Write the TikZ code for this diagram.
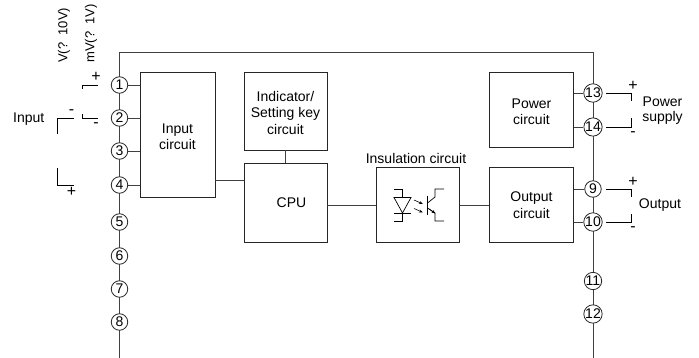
\documentclass[tikz,border=0pt]{standalone}
\usepackage{fontspec}
\setmainfont{Liberation Sans}
\usetikzlibrary{arrows.meta}
\newcommand{\downtext}{\rule{0pt}{14pt}}
\begin{document}
\begin{tikzpicture}[x=1pt,y=-1pt,
  wire/.style={draw=black!75,line width=0.9pt},
  thin wire/.style={draw=black,line width=0.7pt},
  blockbox/.style={draw=black!85,fill=white,line width=0.9pt,minimum width=0pt,align=center,font=\fontsize{14}{16.5}\selectfont,inner sep=0pt},
  term/.style={circle,draw=black!85,fill=white,line width=0.8pt,minimum size=16.5pt,inner sep=0pt,font=\fontsize{14}{14}\selectfont},
  lab/.style={font=\fontsize{14}{15}\selectfont,align=center,inner sep=0pt},
  vlab/.style={font=\fontsize{13}{15}\selectfont,inner sep=0pt,rotate=90,anchor=west},
  sign/.style={font=\fontsize{16}{16}\selectfont,inner sep=0pt}]
\useasboundingbox (0,0) rectangle (699,358);
\coordinate (tl) at (119.5,52);
\coordinate (tr) at (593,52);
\coordinate (bl) at (119.5,358);
\coordinate (br) at (593,358);
\draw[wire] (bl) -- (tl) -- (tr) -- (br);
% blocks
\node[blockbox,minimum width=75pt,minimum height=125pt] (inp) at (177.5,134.5) {\downtext Input\\circuit};
\node[blockbox,minimum width=83pt,minimum height=78pt] (ind) at (285.5,111) {\downtext Indicator/\\Setting key\\circuit};
\node[blockbox,minimum width=83pt,minimum height=79pt] (cpu) at (285.5,203) {\hspace*{12pt}CPU};
\node[blockbox,minimum width=83pt,minimum height=75pt] (ins) at (418,205) {};
\node[blockbox,minimum width=84pt,minimum height=75pt] (out) at (531.5,205) {Output\\circuit};
\node[blockbox,minimum width=84pt,minimum height=75pt] (pow) at (531.5,109.5) {\downtext Power\\circuit};
\node[lab,anchor=south] (inslab) at (416,163.5) {Insulation circuit};
% terminals
\foreach \n/\y in {1/85,2/118,3/151,4/185,5/222,6/256,7/289,8/322}
  \node[term] (t\n) at (119.5,\y) {\n};
\foreach \n/\y in {13/93,14/127,9/189,10/222,11/281,12/314}
  \node[term] (t\n) at (593,\y) {\n};
% connections
\draw[wire] (t1) -- (t1 -| inp.west);
\draw[wire] (t2) -- (t2 -| inp.west);
\draw[wire] (t3) -- (t3 -| inp.west);
\draw[wire] (t4) -- (t4 -| inp.west);
\draw[wire] (inp.east |- 0,180.5) -- (cpu.west |- 0,180.5);
\draw[wire] (ind) -- (cpu);
\draw[wire] (cpu.east |- ins) -- (ins.west);
\draw[wire] (ins.east) -- (out.west);
\draw[wire] (out.east |- t9) -- (t9);
\draw[wire] (out.east |- t10) -- (t10);
\draw[wire] (pow.east |- t13) -- (t13);
\draw[wire] (pow.east |- t14) -- (t14);
% optocoupler
\draw[thin wire] (394,189) -- (402.5,189) -- (402.5,197.5);
\draw[thin wire] (394,197.5) -- (411,197.5) -- (402.5,213) -- cycle;
\draw[thin wire] (394,213) -- (411,213);
\draw[thin wire] (402.5,213) -- (402.5,221) -- (394,221);
\draw[line width=0.6pt,-{Stealth[length=4pt,width=3pt]}] (414,200) -- (423,204);
\draw[line width=0.6pt,-{Stealth[length=4pt,width=3pt]}] (414,208.5) -- (423,212.5);
\draw[thin wire,line width=1.1pt] (427.5,196) -- (427.5,215);
\draw[thin wire] (427.5,203) -- (435,197) -- (435,189) -- (444,189);
\draw[thin wire] (427.5,208) -- (435,213) -- (435,221) -- (444,221);
\draw[line width=0.6pt,-{Stealth[length=4pt,width=3pt]}] (429,209) -- (435.5,213.5);
% input brackets
\draw[thin wire] (98,85) -- (82,85) -- (82,89);
\draw[thin wire] (82,114) -- (82,118) -- (98,118);
\draw[thin wire] (57,134) -- (57,118) -- (74,118);
\draw[thin wire] (57,168) -- (57,185) -- (74,185);
\node[sign] (pa) at (96,77) {+};
\node[sign] (ma) at (96,125) {-};
\node[sign] (mb) at (71.5,112) {-};
\node[sign] (pb) at (71.5,192) {+};
\node[lab,anchor=west] (input) at (13,119) {Input};
\node[vlab] (v) at (64,63) {V(?\ \ 10V)};
\node[vlab] (mv) at (91,63) {mV(?\ \ 1V)};
% right brackets
\draw[thin wire] (606,93) -- (631,93) -- (631,101);
\draw[thin wire] (606,127) -- (631,127) -- (631,118);
\draw[thin wire] (606,189) -- (631,189) -- (631,197);
\draw[thin wire] (606,222) -- (631,222) -- (631,214);
\node[sign] (p1) at (633,86) {+};
\node[sign] (m1) at (633,134) {-};
\node[sign] (p2) at (633,182) {+};
\node[sign] (m2) at (633,229) {-};
\node[lab] (ps) at (662.5,110.5) {Power\\supply};
\node[lab] (op) at (660,205) {Output};
\end{tikzpicture}
\end{document}
